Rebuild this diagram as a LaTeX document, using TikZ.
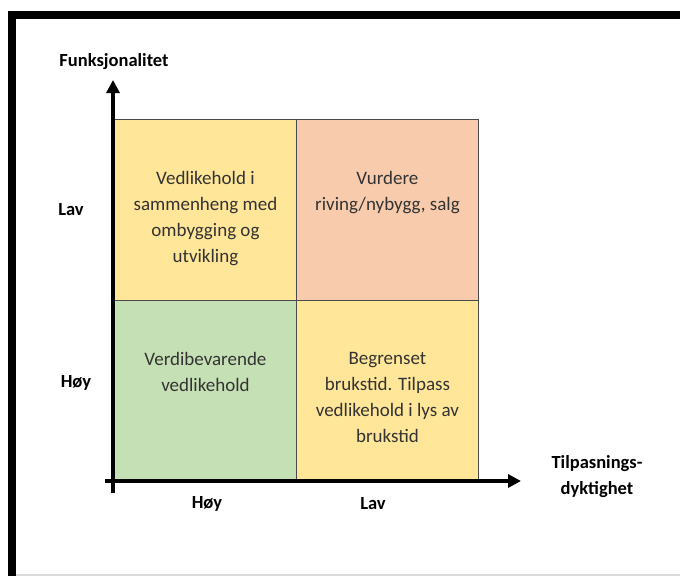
\documentclass[tikz,border=0pt]{standalone}
\usepackage{fontspec}
\setmainfont{Carlito}
\usetikzlibrary{arrows.meta}
\definecolor{cellyellow}{HTML}{FFE699}
\definecolor{cellpeach}{HTML}{F8CBAD}
\definecolor{cellgreen}{HTML}{C5E0B4}
\definecolor{celltext}{HTML}{333333}
\definecolor{gridline}{HTML}{4A4A4A}
\begin{document}
\begin{tikzpicture}[x=1pt,y=-1pt,
  cell/.style={draw=gridline,line width=0.9pt,minimum width=182pt,minimum height=181pt,inner sep=0pt,anchor=north west},
  celltxt/.style={text=celltext,font=\fontsize{19}{25.8}\selectfont,align=center,anchor=north},
  axislabel/.style={font=\fontsize{18.5}{26}\selectfont\bfseries,text=black,align=center},
  axisline/.style={line width=3.5pt,-{Triangle[length=13pt,width=13pt]}}]
\useasboundingbox (0,0) rectangle (680,576);
% frame of the sheet: black on top and left
\fill[white] (0,0) rectangle (680,576);
\fill[black] (8,11) rectangle (680,19);
\fill[black] (8,11) rectangle (16,576);
\fill[gray!30] (16,574) rectangle (680,576);
% four quadrants
\node[cell,fill=cellyellow] (q1) at (114,119) {};
\node[cell,fill=cellpeach] (q2) at (296,119) {};
\node[cell,fill=cellgreen] (q3) at (114,300) {};
\node[cell,fill=cellyellow] (q4) at (296,300) {};
\node[celltxt] (t1) at ([yshift=-49pt]q1.north) {Vedlikehold i\\sammenheng med\\ombygging og\\utvikling};
\node[celltxt] (t2) at ([yshift=-49pt]q2.north) {Vurdere\\riving/nybygg, salg};
\node[celltxt] (t3) at ([yshift=-49pt]q3.north) {Verdibevarende\\vedlikehold};
\node[celltxt] (t4) at ([yshift=-49pt]q4.north) {Begrenset\\brukstid. Tilpass\\vedlikehold i lys av\\brukstid};
% axes
\coordinate (origin) at (113,493);
\coordinate (ytip) at (113,80);
\coordinate (xstart) at (105,481);
\coordinate (xtip) at (521,481);
\draw[axisline] (origin) -- (ytip);
\draw[axisline] (xstart) -- (xtip);
% axis labels
\node[axislabel] (ylab) at (114,62) {Funksjonalitet};
\node[axislabel] (ylav) at (71,210) {Lav};
\node[axislabel] (yhoy) at (76,383) {Høy};
\node[axislabel] (xhoy) at (207,504) {Høy};
\node[axislabel] (xlav) at (373,504) {Lav};
\node[axislabel] (xlab) at (597,477) {Tilpasnings-\\dyktighet};
\end{tikzpicture}
\end{document}
